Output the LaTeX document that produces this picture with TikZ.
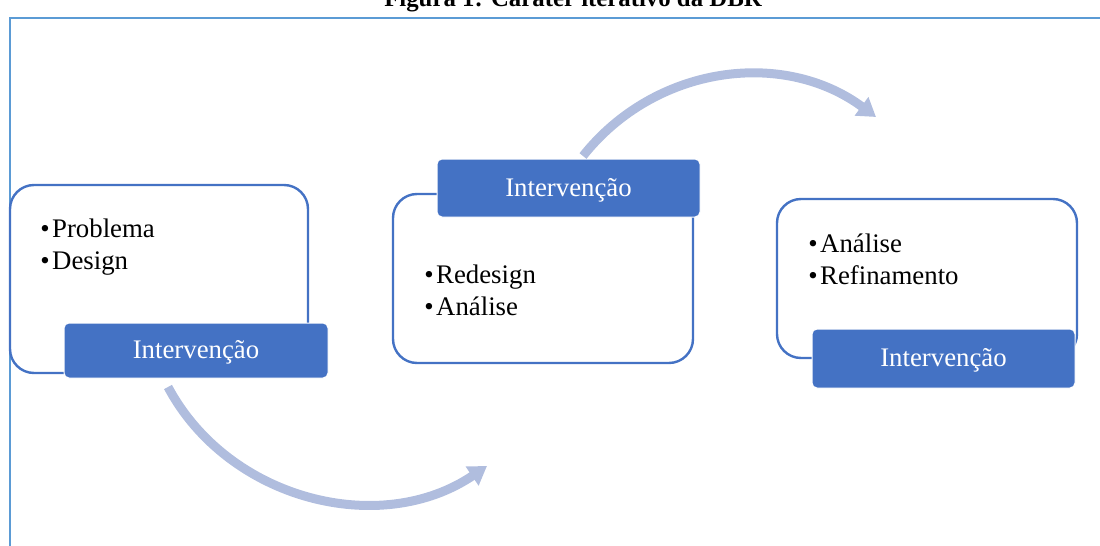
\documentclass[tikz,border=0pt]{standalone}
\usepackage{fontspec}
\setmainfont{Liberation Serif}
\usetikzlibrary{arrows.meta}
\definecolor{azul}{RGB}{68,114,196}
\definecolor{moldura}{RGB}{91,155,213}
\definecolor{lilas}{RGB}{176,189,222}

\begin{document}
\begin{tikzpicture}[x=0.5pt,y=-0.5pt,
  caixa/.style={draw=azul,line width=1.2pt,rounded corners=12pt,fill=white},
  rotulo/.style={fill=azul,draw=white,line width=0.5pt,rounded corners=2.5pt,text=white,text depth=1pt,font=\fontsize{13.4}{16}\selectfont},
  item/.style={anchor=base west,inner sep=0pt,font=\fontsize{13.4}{16}\selectfont},
  seta/.style={draw=lilas,line width=4.5pt,-{Triangle[width=11pt,length=9pt]}}]
\useasboundingbox (0,0) rectangle (1100,546);
\draw[moldura,line width=1pt] (10,546) -- (10,18) -- (1100,18);
\node[anchor=base,font=\bfseries\fontsize{12.4}{15}\selectfont] (titulo) at (573,6) {Figura 1: Caráter iterativo da DBR};

\node[caixa,minimum width=149pt,minimum height=94pt] (c1) at (159,279) {};
\node[caixa,minimum width=150pt,minimum height=84.5pt] (c2) at (543,278.5) {};
\node[caixa,minimum width=150pt,minimum height=79.5pt] (c3) at (927,278.5) {};

\node[rotulo,minimum width=132pt,minimum height=27.5pt] (r1) at (196,350.5) {Intervenção};
\node[rotulo,minimum width=131.5pt,minimum height=29pt] (r2) at (568.5,188) {Intervenção};
\node[rotulo,minimum width=131.5pt,minimum height=29.5pt] (r3) at (943.5,358.5) {Intervenção};

\node[item] (p1) at (40,237) {•\hspace{1.2pt}Problema};
\node[item] (d1) at (40,269) {•\hspace{1.2pt}Design};
\node[item] (rd2) at (424,283) {•\hspace{1.2pt}Redesign};
\node[item] (a2) at (424,315) {•\hspace{1.2pt}Análise};
\node[item] (a3) at (808,252) {•\hspace{1.2pt}Análise};
\node[item] (rf3) at (808,284) {•\hspace{1.2pt}Refinamento};

\coordinate (s1) at (168,387);
\coordinate (e1) at (487,466);
\coordinate (s2) at (583,156);
\coordinate (e2) at (876,117);
\draw[seta] (s1) to[bend right=48] (e1);
\draw[seta] (s2) to[bend left=44] (e2);
\end{tikzpicture}
\end{document}
